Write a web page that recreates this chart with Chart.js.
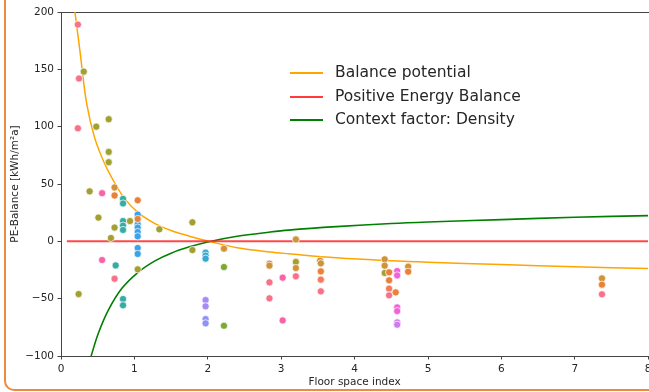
<!DOCTYPE html>
<html>
<head>
<meta charset="utf-8">
<script src="https://cdn.jsdelivr.net/npm/chart.js@4"></script>
<style>
  html, body { margin: 0; padding: 0; background: #fff; overflow: hidden; }
  #wrap { position: relative; width: 649px; height: 392px; overflow: hidden; }
  #frame { position: absolute; left: 4px; top: -20px; width: 800px; height: 411px;
           box-sizing: border-box; border: 2px solid #f08a3c; border-radius: 10px; }
  #myChart { position: absolute; left: 0; top: 0; }
  #legend { position: absolute; left: 290px; top: 61px; font-family: "DejaVu Sans"; font-size: 15.5px; color: #262626; }
  .row { height: 23.7px; line-height: 23.7px; display: flex; align-items: center; white-space: nowrap; }
  .swatch { width: 33px; height: 2px; margin-right: 12px; }
</style>
</head>
<body>
<div id="wrap">
  <div id="frame"></div>
  <canvas id="myChart" width="700" height="392"></canvas>
  <div id="legend">
    <div class="row"><span class="swatch" style="background:#ffa500"></span>Balance potential</div>
    <div class="row"><span class="swatch" style="background:#ff3b3b"></span>Positive Energy Balance</div>
    <div class="row"><span class="swatch" style="background:#008000"></span>Context factor: Density</div>
  </div>
</div>
<script>
// curves
const balanceX = [0.19, 0.26, 0.35, 0.46, 0.6, 0.74, 0.87, 1.05, 1.28, 1.5, 1.75, 2.0, 2.4, 2.85, 3.1, 3.75, 4.5, 5.0, 6.0, 7.0, 8.0];
const balanceY = [200, 165, 120, 90, 67, 50, 37, 25, 15.5, 9.5, 4.5, 0.3, -5.5, -9.3, -10.8, -14.3, -17, -18.3, -20.3, -22.2, -23.6];
const densityX = [0.41, 0.51, 0.645, 0.83, 1.05, 1.28, 1.5, 1.75, 2.0, 2.4, 2.85, 3.1, 3.75, 4.5, 5.0, 6.0, 7.0, 8.0];
const densityY = [-100, -80, -60, -41, -27, -17, -10.3, -4.8, -0.5, 4.4, 8.1, 9.8, 12.8, 15.6, 16.9, 18.9, 21, 22.4];
const pebX = [0.08, 8];
const pebY = [0, 0];

// scatter points, grouped by colour
const salmonPts = [[0.23,189],[0.245,142],[0.23,98.6],[0.73,-32.6],[2.84,-35.8],[2.84,-49.7],[3.2,-30.5],[3.54,-43.6],[4.47,-47.1],[7.37,-46.2]];
const coralPts = [[3.54,-33.4],[4.47,-41.3]];
const orangePts = [[0.73,40],[1.045,35.8],[1.045,19.5],[3.54,-26.2],[4.47,-27],[4.47,-34],[4.56,-44.5],[4.73,-26.5],[7.37,-37.8]];
const tanPts = [[0.73,47],[2.22,-6.4],[2.84,-19.5],[2.84,-21.2],[3.2,1.7],[3.2,-23.3],[3.53,-16.9],[3.54,-19.2],[4.41,-15.7],[4.41,-21.2],[4.73,-22.1],[7.37,-32.3]];
const olivePts = [[0.31,148],[0.48,100],[0.65,106.5],[0.65,78],[0.65,69],[0.39,43.6],[0.51,20.7],[0.73,12],[0.94,17.7],[1.34,10.5],[0.68,2.9],[1.045,-24.4],[0.24,-46],[1.79,16.6],[1.79,-7.6],[3.2,-18],[4.41,-27.6]];
const greenPts = [[2.22,-22.4],[2.22,-73.6]];
const tealPts = [[0.845,37],[0.845,33],[0.845,17.7],[0.845,13.7],[0.845,9.9],[0.745,-21],[0.845,-50.3],[0.845,-55.8]];
const bluePts = [[1.045,23.3],[1.045,15],[1.045,12],[1.045,8.1],[1.045,4.4],[1.045,-5.8],[1.045,-11]];
const skyPts = [[1.97,-9.9],[1.97,-12.5],[1.97,-15.1]];
const purplePts = [[1.97,-51.2],[1.97,-56.7]];
const periPts = [[1.97,-67.8],[1.97,-71.5]];
const pinkPts = [[0.56,42],[0.56,-16.3],[3.02,-31.7],[3.02,-69]];
const magentaPts = [[4.58,-25.9],[4.58,-29.7],[4.58,-57.6],[4.58,-60.8]];
const violetPts = [[4.58,-70.7],[4.58,-72.7]];

const xTicks = [0, 1, 2, 3, 4, 5, 6, 7, 8];
const yTicks = [-100, -50, 0, 50, 100, 150, 200];

const font = { family: "DejaVu Sans", size: 10.5 };

function toXY(xs, ys) {
  return xs.map((x, i) => ({ x: x, y: ys[i] }));
}

function lineSet(xs, ys, color, width) {
  return {
    data: toXY(xs, ys),
    showLine: true,
    borderColor: color,
    borderWidth: width,
    pointRadius: 0,
    tension: 0.35,
    order: 2
  };
}

function dotSet(pts, color) {
  return {
    data: pts.map(p => ({ x: p[0], y: p[1] })),
    backgroundColor: color,
    borderColor: '#ffffff',
    borderWidth: 0.7,
    pointRadius: 3.6,
    order: 1
  };
}

const config = {
  type: 'scatter',
  data: {
    datasets: [
      lineSet(pebX, pebY, 'rgba(255,40,40,0.85)', 2),
      lineSet(balanceX, balanceY, '#ffa500', 1.5),
      lineSet(densityX, densityY, '#008000', 1.6),
      dotSet(salmonPts, '#f77189'),
      dotSet(coralPts, '#f27a5e'),
      dotSet(orangePts, '#e8823a'),
      dotSet(tanPts, '#d0923a'),
      dotSet(olivePts, '#a3a032'),
      dotSet(greenPts, '#7aab31'),
      dotSet(tealPts, '#36ada4'),
      dotSet(bluePts, '#3ba3ea'),
      dotSet(skyPts, '#39a7d0'),
      dotSet(purplePts, '#a48cf4'),
      dotSet(periPts, '#8f93f5'),
      dotSet(pinkPts, '#f564a8'),
      dotSet(magentaPts, '#f062d8'),
      dotSet(violetPts, '#d07af2')
    ]
  },
  options: {
    responsive: false,
    animation: false,
    devicePixelRatio: 1,
    layout: { padding: { left: 0, right: 51.8, top: 12, bottom: 0 } },
    plugins: { legend: { display: false }, tooltip: { enabled: false } },
    scales: {
      x: {
        type: 'linear',
        min: 0,
        max: 8,
        afterBuildTicks: s => { s.ticks = xTicks.map(v => ({ value: v })); },
        afterFit: s => { s.height = 36; },
        ticks: { color: '#262626', font: font, padding: 3, maxRotation: 0 },
        grid: { drawOnChartArea: false, tickLength: 3.5, color: '#444' },
        border: { color: '#444', width: 1 },
        title: { display: true, text: 'Floor space index', color: '#262626', font: font, padding: { top: 0, bottom: 3 } }
      },
      x2: {
        type: 'linear',
        position: 'top',
        min: 0,
        max: 8,
        afterFit: s => { s.height = 0; },
        ticks: { display: false },
        grid: { drawOnChartArea: false, drawTicks: false },
        border: { color: '#444', width: 1 }
      },
      y: {
        min: -100,
        max: 200,
        afterBuildTicks: s => { s.ticks = yTicks.map(v => ({ value: v })); },
        afterFit: s => { s.width = 61; },
        ticks: {
          color: '#262626', font: font, padding: 3.5,
          callback: v => v < 0 ? '\u2212' + Math.abs(v) : String(v)
        },
        grid: { drawOnChartArea: false, tickLength: 3.5, color: '#444' },
        border: { color: '#444', width: 1 },
        title: { display: true, text: 'PE-Balance [kWh/m\u00b2a]', color: '#262626', font: font, padding: { top: 9, bottom: 0 } }
      }
    }
  }
};

const myChart = new Chart(document.getElementById('myChart'), config);
</script>
</body>
</html>
